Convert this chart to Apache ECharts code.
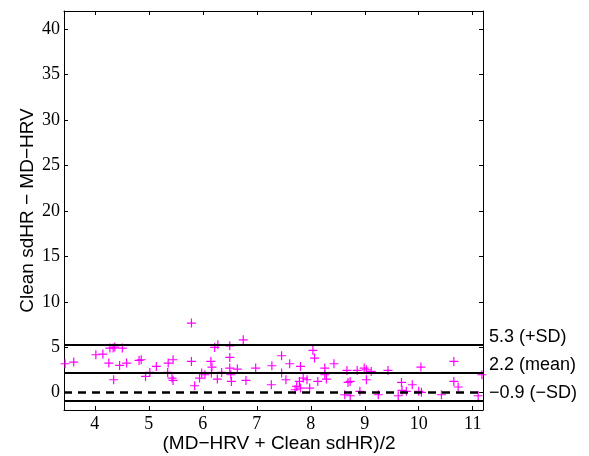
<!DOCTYPE html>
<html>
<head>
<meta charset="utf-8">
<script src="https://cdn.jsdelivr.net/npm/echarts@6/dist/echarts.min.js"></script>
<style>
html, body { margin: 0; padding: 0; background: #fff; }
#chart { width: 589px; height: 456px; }
</style>
</head>
<body>
<div id="chart"></div>
<script>
// mean of the two measures (x) and their difference (y)
var meanVals = [3.45, 3.61, 4.02, 4.15, 4.28, 4.34, 4.37, 4.51, 4.26, 4.46, 4.59, 4.35, 4.82, 4.86, 4.94, 5.02,
    5.14, 5.36, 5.35, 5.45, 5.43, 5.45, 5.79, 5.79, 5.85, 5.94, 5.98, 6.04, 6.15, 6.17, 6.16, 6.22,
    6.28, 6.27, 6.35, 6.5, 6.5, 6.5, 6.52, 6.53, 6.64, 6.75, 6.8, 6.98, 7.28, 7.27, 7.46, 7.46,
    7.54, 7.61, 7.71, 7.74, 7.79, 7.81, 7.81, 7.86, 7.93, 7.98, 8.04, 8.07, 8.13, 8.26, 8.26, 8.29,
    8.43, 8.63, 8.67, 8.69, 8.73, 8.73, 8.86, 8.91, 8.99, 9.03, 9.03, 9.12, 9.25, 9.43, 9.68, 9.69,
    9.77, 9.62, 9.88, 10.0, 10.05, 10.04, 10.42, 10.65, 10.65, 10.73, 11.1, 11.17];
var diffVals = [3.19, 3.37, 4.18, 4.25, 4.91, 4.91, 5.02, 4.91, 3.26, 3.0, 3.26, 1.43, 3.55, 3.63, 1.79, 2.23,
    2.89, 3.26, 2.23, 3.63, 1.61, 1.35, 7.66, 3.44, 0.77, 1.61, 2.16, 1.98, 3.44, 2.82, 2.16, 4.98,
    5.27, 1.5, 2.23, 5.16, 3.88, 2.71, 1.98, 1.24, 2.6, 5.82, 1.35, 2.71, 2.97, 0.88, 4.07, 2.16,
    1.43, 3.19, 0.33, 0.69, 1.24, 2.89, 0.51, 1.61, 1.43, 0.51, 4.65, 3.81, 1.24, 2.71, 1.98, 1.5,
    3.19, -0.22, 2.45, 1.13, -0.33, 1.24, 2.45, 0.15, 2.71, 2.53, 1.43, 2.34, -0.22, 2.45, 1.13, 0.26,
    0.15, -0.33, 0.88, 0.15, 0.04, 2.82, -0.22, 3.44, 1.24, 0.63, -0.33, 1.98];

var limitVals = [5.3, 2.2, -0.9];
var limitNames = ['5.3 (+SD)', '2.2 (mean)', '\u22120.9 (\u2212SD)'];
var zeroVal = 0;

var xTicks = [4, 5, 6, 7, 8, 9, 10, 11];
var yTicks = [0, 5, 10, 15, 20, 25, 30, 35, 40];

var points = [];
for (var i = 0; i < meanVals.length; i++) {
    points.push([meanVals[i], diffVals[i]]);
}

var limitLines = [];
for (var k = 0; k < limitVals.length; k++) {
    limitLines.push({ yAxis: limitVals[k], label: { formatter: limitNames[k] } });
}

var myChart = echarts.init(document.getElementById('chart'));

var tickFont = { fontFamily: 'Liberation Serif', fontSize: 18, color: '#000' };
var blackLine = { onZero: false, lineStyle: { color: '#000', width: 1 } };

var option = {
    backgroundColor: '#fff',
    animation: false,
    grid: { left: 64, right: 106, top: 11, bottom: 46, containLabel: false, outerBoundsMode: 'none' },
    xAxis: [{
        type: 'value',
        min: 3.43,
        max: 11.19,
        name: '(MD\u2212HRV + Clean sdHR)/2',
        nameLocation: 'middle',
        nameGap: 24,
        nameMoveOverlap: false,
        nameTextStyle: { fontFamily: 'Liberation Sans', fontSize: 19, color: '#000', padding: [0, 0, 0, 11] },
        axisLine: blackLine,
        axisTick: { inside: true, length: 4, customValues: xTicks, lineStyle: { color: '#000' } },
        axisLabel: Object.assign({ customValues: xTicks, margin: 5 }, tickFont),
        splitLine: { show: false }
    }, {
        type: 'value',
        position: 'top',
        min: 3.43,
        max: 11.19,
        axisLine: blackLine,
        axisTick: { inside: true, length: 4, customValues: xTicks, lineStyle: { color: '#000' } },
        axisLabel: { show: false },
        splitLine: { show: false }
    }],
    yAxis: [{
        type: 'value',
        min: -1.9,
        max: 42,
        name: 'Clean sdHR \u2212 MD\u2212HRV',
        nameLocation: 'middle',
        nameGap: 27,
        nameMoveOverlap: false,
        nameTextStyle: { fontFamily: 'Liberation Sans', fontSize: 19, color: '#000' },
        axisLine: blackLine,
        axisTick: { inside: true, length: 4, customValues: yTicks, lineStyle: { color: '#000' } },
        axisLabel: Object.assign({ customValues: yTicks, margin: 4 }, tickFont),
        splitLine: { show: false }
    }, {
        type: 'value',
        position: 'right',
        min: -1.9,
        max: 42,
        axisLine: blackLine,
        axisTick: { inside: true, length: 4, customValues: yTicks, lineStyle: { color: '#000' } },
        axisLabel: { show: false },
        splitLine: { show: false }
    }],
    series: [{
        name: 'diff',
        type: 'scatter',
        z: 2,
        silent: true,
        emphasis: { disabled: true },
        data: points,
        symbol: 'path://M0,3.9h9v1.2h-9z M3.9,0h1.2v9h-1.2z',
        symbolSize: 9,
        itemStyle: { color: '#ff00ff', opacity: 1 }
    }, {
        name: 'limits',
        type: 'scatter',
        z: 3,
        silent: true,
        data: [],
        markLine: {
            silent: true,
            symbol: 'none',
            z: 5,
            lineStyle: { color: '#000', width: 2, type: 'solid' },
            label: {
                position: 'end',
                distance: 6,
                offset: [0, -8],
                fontFamily: 'Liberation Sans',
                fontSize: 18,
                color: '#000'
            },
            data: limitLines
        }
    }, {
        name: 'zero',
        type: 'scatter',
        z: 3,
        silent: true,
        data: [],
        markLine: {
            silent: true,
            symbol: 'none',
            z: 5,
            label: { show: false },
            lineStyle: { color: '#000', width: 2.5, type: [8, 6] },
            data: [{ yAxis: zeroVal }]
        }
    }]
};
myChart.setOption(option);
</script>
</body>
</html>
